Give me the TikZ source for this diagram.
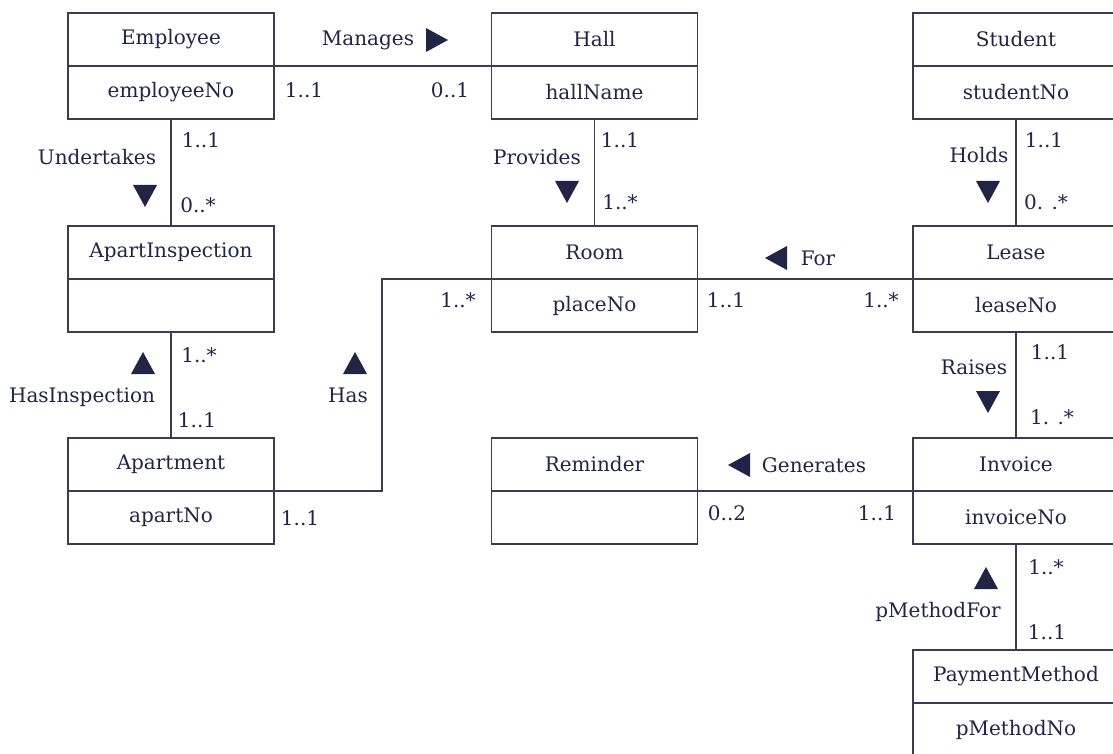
\documentclass[tikz,border=0pt]{standalone}
\usepackage{fontspec}
\setmainfont{DejaVu Serif}
\usepackage{tikz}
\usetikzlibrary{positioning}
\definecolor{umlink}{RGB}{34,36,70}
\definecolor{umlline}{RGB}{60,60,78}

\begin{document}
\begin{tikzpicture}[x=0.5pt,y=-0.5pt,
  every node/.style={font=\fontsize{10}{12}\selectfont, text=umlink},
  clsbox/.style={draw=umlline, line width=0.8pt, minimum width=103pt, minimum height=26.5pt, inner sep=0pt, outer sep=0pt},
  assoc/.style={draw=umlline, line width=0.8pt},
  mult/.style={inner sep=0pt},
  rolename/.style={inner sep=0pt},
  dirtri/.pic={\fill[umlink] (-5.5pt,6pt) -- (5.5pt,0pt) -- (-5.5pt,-6pt) -- cycle;}]
  \useasboundingbox (0,0) rectangle (1113,754);

  % classes
  \node[clsbox] (emp) at (171,39.5) {Employee};
  \node[clsbox, below=0pt of emp] (emp-a) {employeeNo};
  \node[clsbox] (hall) at (594.5,39.5) {Hall};
  \node[clsbox, below=0pt of hall] (hall-a) {hallName};
  \node[clsbox] (stu) at (1016,39.5) {Student};
  \node[clsbox, below=0pt of stu] (stu-a) {studentNo};
  \node[clsbox] (insp) at (171,252.5) {ApartInspection};
  \node[clsbox, below=0pt of insp] (insp-a) {};
  \node[clsbox] (room) at (594.5,252.5) {Room};
  \node[clsbox, below=0pt of room] (room-a) {placeNo};
  \node[clsbox] (lease) at (1016,252.5) {Lease};
  \node[clsbox, below=0pt of lease] (lease-a) {leaseNo};
  \node[clsbox] (apt) at (171,464.5) {Apartment};
  \node[clsbox, below=0pt of apt] (apt-a) {apartNo};
  \node[clsbox] (rem) at (594.5,464.5) {Reminder};
  \node[clsbox, below=0pt of rem] (rem-a) {};
  \node[clsbox] (inv) at (1016,464.5) {Invoice};
  \node[clsbox, below=0pt of inv] (inv-a) {invoiceNo};
  \node[clsbox] (pm) at (1016,676.5) {PaymentMethod};
  \node[clsbox, below=0pt of pm] (pm-a) {pMethodNo};

  % associations
  \draw[assoc] (emp.south east) -- (hall.south west);
  \draw[assoc] (emp-a.south) -- (insp.north);
  \draw[assoc] (hall-a.south) -- (room.north);
  \draw[assoc] (stu-a.south) -- (lease.north);
  \draw[assoc] (room.south east) -- (lease.south west);
  \draw[assoc] (insp-a.south) -- (apt.north);
  \coordinate (hasx) at (382,0);
  \draw[assoc] (apt.south east) -| (hasx |- room.south west) -- (room.south west);
  \draw[assoc] (lease-a.south) -- (inv.north);
  \draw[assoc] (inv.south west) -- (rem.south east);
  \draw[assoc] (inv-a.south) -- (pm.north);

  % Manages
  \node[rolename] (manages) at (368,40) {Manages};
  \pic at (437,40) {dirtri};
  \node[mult] (manages-1) at (304,90) {1..1};
  \node[mult] (manages-2) at (450,90) {0..1};
  % Undertakes
  \node[rolename] (undertakes) at (97,157) {Undertakes};
  \pic[rotate=-90] at (145,196) {dirtri};
  \node[mult] (undertakes-1) at (201,140) {1..1};
  \node[mult] (undertakes-2) at (198,205) {0..*};
  % Provides
  \node[rolename] (provides) at (537,157) {Provides};
  \pic[rotate=-90] at (567,192) {dirtri};
  \node[mult] (provides-1) at (620,140) {1..1};
  \node[mult] (provides-2) at (620,202) {1..*};
  % Holds
  \node[rolename] (holds) at (979,155) {Holds};
  \pic[rotate=-90] at (988,192) {dirtri};
  \node[mult] (holds-1) at (1044,140) {1..1};
  \node[mult] (holds-2) at (1046,202) {0. .*};
  % For
  \node[rolename] (for) at (818,258) {For};
  \pic[rotate=180] at (776,258) {dirtri};
  \node[mult] (for-1) at (726,300) {1..1};
  \node[mult] (for-2) at (881,300) {1..*};
  % HasInspection
  \node[rolename] (hasinsp) at (82,397) {HasInspection};
  \pic[rotate=90] at (143,363) {dirtri};
  \node[mult] (hasinsp-1) at (199,355) {1..*};
  \node[mult] (hasinsp-2) at (197,420) {1..1};
  % Has
  \node[rolename] (has) at (348,395) {Has};
  \pic[rotate=90] at (355,363) {dirtri};
  \node[mult] (has-1) at (300,518) {1..1};
  \node[mult] (has-2) at (458,300) {1..*};
  % Raises
  \node[rolename] (raises) at (974,367) {Raises};
  \pic[rotate=-90] at (988,402) {dirtri};
  \node[mult] (raises-1) at (1050,352) {1..1};
  \node[mult] (raises-2) at (1052,417) {1. .*};
  % Generates
  \node[rolename] (generates) at (814,465) {Generates};
  \pic[rotate=180] at (739,465) {dirtri};
  \node[mult] (generates-1) at (727,513) {0..2};
  \node[mult] (generates-2) at (877,513) {1..1};
  % pMethodFor
  \node[rolename] (pmfor) at (938,612) {pMethodFor};
  \pic[rotate=90] at (986,578) {dirtri};
  \node[mult] (pmfor-1) at (1046,567) {1..*};
  \node[mult] (pmfor-2) at (1047,632) {1..1};
\end{tikzpicture}
\end{document}
